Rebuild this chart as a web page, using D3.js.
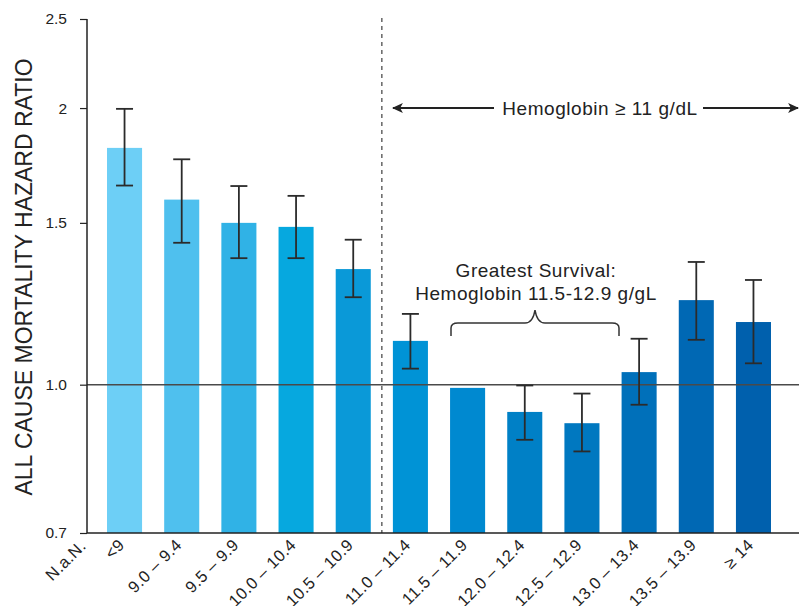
<!DOCTYPE html>
<html>
<head>
<meta charset="utf-8">
<script src="https://cdn.jsdelivr.net/npm/d3@7/dist/d3.min.js"></script>
<style>
  body { margin: 0; background: #fff; }
  svg { display: block; font-family: "Liberation Sans", Arial, Helvetica, sans-serif; }
</style>
</head>
<body>
<svg id="chart" width="799" height="606"></svg>
<script>
const categories = ["<9", "9.0 – 9.4", "9.5 – 9.9", "10.0 – 10.4", "10.5 – 10.9", "11.0 – 11.4",
  "11.5 – 11.9", "12.0 – 12.4", "12.5 – 12.9", "13.0 – 13.4", "13.5 – 13.9", "≥ 14"];
const hazard = [1.81, 1.59, 1.50, 1.485, 1.336, 1.116, 0.992, 0.934, 0.908, 1.032, 1.236, 1.170];
const upper  = [1.996, 1.759, 1.645, 1.605, 1.438, 1.194, null, 0.998, 0.978, 1.122, 1.36, 1.30];
const lower  = [1.647, 1.427, 1.373, 1.373, 1.245, 1.041, null, 0.871, 0.846, 0.951, 1.119, 1.055];
const colors = ["#6dcff6", "#4fc0ee", "#30b2e6", "#06a8df", "#0a99d8", "#0093d6",
  "#0089d0", "#0080c6", "#0078c0", "#0070ba", "#0068b4", "#0060ad"];
const extraLabel = "N.a.N.";
const tickValues = [0.6896, 1.0, 1.5, 2.0, 2.5];
const tickLabels = ["0.7", "1.0", "1.5", "2", "2.5"];
const yTitle = "ALL CAUSE MORTALITY HAZARD RATIO";
const topNote = "Hemoglobin ≥ 11 g/dL";
const braceNote = ["Greatest Survival:", "Hemoglobin 11.5-12.9 g/gL"];

(function () {
const svg = d3.select("#chart");
const mLeft = 87, mRight = 799, mTop = 19, mBottom = 533;

const x = d3.scaleBand().domain(categories).range([mLeft, 791]).paddingInner(0.387).paddingOuter(0.35);
const y = d3.scaleLog().domain([0.6896, 2.5]).range([mBottom, mTop]);

// bars
svg.append("g").selectAll("rect").data(categories).join("rect")
  .attr("x", d => x(d))
  .attr("width", x.bandwidth())
  .attr("y", (d, i) => y(hazard[i]))
  .attr("height", (d, i) => mBottom - y(hazard[i]))
  .attr("fill", (d, i) => colors[i]);

// reference line at 1.0
svg.append("line")
  .attr("x1", mLeft).attr("x2", mRight)
  .attr("y1", y(1)).attr("y2", y(1))
  .attr("stroke", "#4a4a4a").attr("stroke-width", 1.5);

// error bars
const eg = svg.append("g").attr("stroke", "#2b2b2b").attr("stroke-width", 1.8);
categories.forEach((c, i) => {
  if (upper[i] == null) return;
  const cx = x(c) + x.bandwidth() / 2;
  eg.append("line").attr("x1", cx).attr("x2", cx).attr("y1", y(upper[i])).attr("y2", y(lower[i]));
  eg.append("line").attr("x1", cx - 8.5).attr("x2", cx + 8.5).attr("y1", y(upper[i])).attr("y2", y(upper[i]));
  eg.append("line").attr("x1", cx - 8.5).attr("x2", cx + 8.5).attr("y1", y(lower[i])).attr("y2", y(lower[i]));
});

// dashed divider between 10.5–10.9 and 11.0–11.4
const divX = (x(categories[4]) + x.bandwidth() + x(categories[5])) / 2;
svg.append("line")
  .attr("x1", divX).attr("x2", divX).attr("y1", mTop - 1).attr("y2", mBottom)
  .attr("stroke", "#666").attr("stroke-width", 1.5).attr("stroke-dasharray", "4,4");

// y axis
const yAxis = d3.axisLeft(y).tickValues(tickValues).tickFormat((d, i) => tickLabels[i]).tickSize(7).tickPadding(13);
const ya = svg.append("g").attr("transform", `translate(${mLeft},0)`).call(yAxis);
ya.select(".domain").attr("stroke", "#222").attr("stroke-width", 1.5).attr("d", `M0,${mTop}V${mBottom}`);
ya.selectAll(".tick line").attr("stroke", "#222").attr("stroke-width", 1.2);
ya.selectAll(".tick text").attr("font-size", 15.5).attr("fill", "#222").attr("font-family", "Liberation Sans, Arial, sans-serif");

// x axis line
svg.append("line").attr("x1", mLeft).attr("x2", mRight).attr("y1", mBottom).attr("y2", mBottom)
  .attr("stroke", "#222").attr("stroke-width", 1.5);

// x labels
const xl = svg.append("g").attr("font-size", 16.5).attr("letter-spacing", 0.4).attr("fill", "#222").attr("text-anchor", "end");
categories.forEach((c, i) => {
  const cx = x(c) + x.bandwidth() / 2;
  xl.append("text").attr("transform", `translate(${cx + 1},${mBottom + 13}) rotate(-45)`).text(c);
});
xl.append("text").attr("transform", `translate(${mLeft},${mBottom + 14}) rotate(-45)`).text(extraLabel);

// y title
svg.append("text")
  .attr("transform", `translate(32,277) rotate(-90)`)
  .attr("text-anchor", "middle").attr("font-size", 23).attr("fill", "#222")
  .text(yTitle);

// top arrow annotation
const defs = svg.append("defs");
defs.append("marker").attr("id", "ah").attr("viewBox", "0 0 10 10").attr("refX", 9).attr("refY", 5)
  .attr("markerWidth", 11).attr("markerHeight", 11).attr("orient", "auto-start-reverse")
  .attr("markerUnits", "userSpaceOnUse")
  .append("path").attr("d", "M0,0.5 L10,5 L0,9.5 L2.5,5 Z").attr("fill", "#222");
const arrowY = 108;
svg.append("line").attr("x1", 393).attr("x2", 494).attr("y1", arrowY).attr("y2", arrowY)
  .attr("stroke", "#222").attr("stroke-width", 1.8).attr("marker-start", "url(#ah)");
svg.append("line").attr("x1", 703).attr("x2", 798).attr("y1", arrowY).attr("y2", arrowY)
  .attr("stroke", "#222").attr("stroke-width", 1.8).attr("marker-end", "url(#ah)");
svg.append("text").attr("x", 600).attr("y", arrowY + 7).attr("text-anchor", "middle")
  .attr("font-size", 19).attr("letter-spacing", 0.55).attr("fill", "#222").text(topNote);

// brace annotation
svg.append("text").attr("x", 536).attr("y", 277).attr("text-anchor", "middle")
  .attr("font-size", 19).attr("letter-spacing", 0.55).attr("fill", "#222").text(braceNote[0]);
svg.append("text").attr("x", 536).attr("y", 300).attr("text-anchor", "middle")
  .attr("font-size", 19).attr("letter-spacing", 0.55).attr("fill", "#222").text(braceNote[1]);
const bx0 = 451, bx1 = 619, bmid = 535, by = 323;
svg.append("path")
  .attr("d", `M${bx0},${by + 13} L${bx0},${by + 5} Q${bx0},${by} ${bx0 + 7},${by} L${bmid - 10},${by} Q${bmid - 2},${by} ${bmid},${by - 13} Q${bmid + 2},${by} ${bmid + 10},${by} L${bx1 - 7},${by} Q${bx1},${by} ${bx1},${by + 5} L${bx1},${by + 13}`)
  .attr("fill", "none").attr("stroke", "#333").attr("stroke-width", 1.5);
})();
</script>
</body>
</html>
